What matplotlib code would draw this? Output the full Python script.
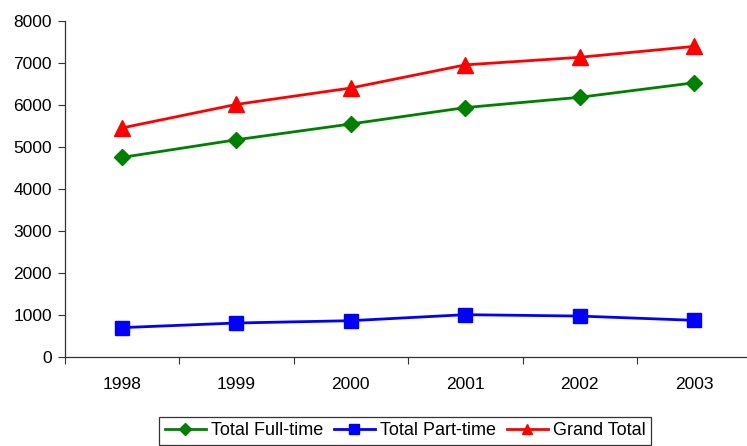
import matplotlib
matplotlib.use("Agg")
import matplotlib.pyplot as plt

plt.rcParams['font.family'] = ['Liberation Sans', 'DejaVu Sans']

years = ['1998', '1999', '2000', '2001', '2002', '2003']
full_time = [4750, 5170, 5545, 5935, 6180, 6525]
part_time = [705, 815, 870, 1013, 980, 879]
grand_total = [5450, 6010, 6400, 6950, 7130, 7390]
y_ticks = [0, 1000, 2000, 3000, 4000, 5000, 6000, 7000, 8000]

W, H = 747, 446
fig = plt.figure(figsize=(W / 100, H / 100), dpi=100)
ax = fig.add_axes([64.5 / W, (H - 357.3) / H, (751.5 - 64.5) / W, (357.3 - 20.7) / H])

x = list(range(len(years)))
ax.plot(x, full_time, color='#008000', lw=2.0, marker='D', ms=8.5, label='Total Full-time')
ax.plot(x, part_time, color='#0000FF', lw=2.0, marker='s', ms=9.5, label='Total Part-time')
ax.plot(x, grand_total, color='#FF0000', lw=2.0, marker='^', ms=11, label='Grand Total')

ax.set_xlim(-0.5, len(years) - 0.5)
ax.set_ylim(0, 8000)
ax.set_yticks(y_ticks)
ax.set_yticklabels([str(v) for v in y_ticks], fontsize=12.5)
ax.set_xticks(x)
ax.set_xticklabels(years, fontsize=12.5)
ax.set_xticks([i - 0.5 for i in range(len(years) + 1)], minor=True)
ax.tick_params(axis='x', which='major', length=0, pad=14)
ax.tick_params(axis='x', which='minor', length=5, width=0.8, direction='out', color='#333333')
ax.tick_params(axis='y', length=5, width=0.8, direction='out', color='#333333', pad=4)

for s in ['top', 'right']:
    ax.spines[s].set_visible(False)
for s in ['left', 'bottom']:
    ax.spines[s].set_color('#333333')
    ax.spines[s].set_linewidth(0.9)

leg = fig.legend(loc='upper center', bbox_to_anchor=(405 / W, 1 - 417 / H), ncol=3,
                 fontsize=13.0, frameon=True, fancybox=False, edgecolor='black',
                 handlelength=2.3, handletextpad=0.25, columnspacing=0.6,
                 markerscale=0.7, borderpad=0.3, borderaxespad=0)
leg.get_frame().set_linewidth(0.9)

fig.savefig('out.png', dpi=100)
